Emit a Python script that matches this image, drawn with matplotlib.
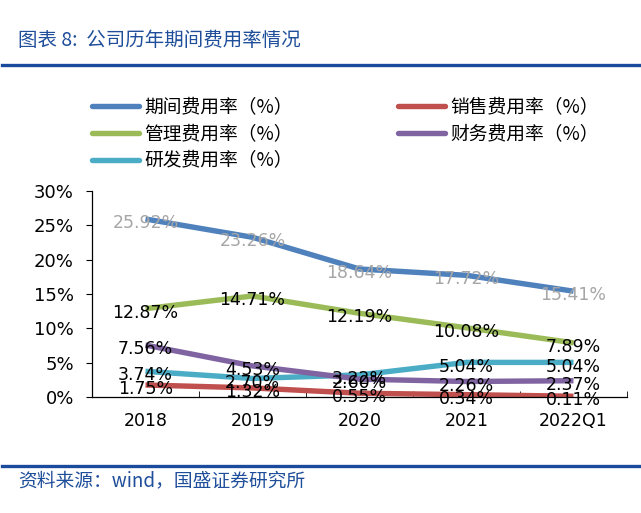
import numpy as np
import matplotlib.pyplot as plt
from matplotlib.lines import Line2D

plt.rcParams['font.family'] = ['Noto Sans CJK SC', 'DejaVu Sans']

# Data
years = ["2018", "2019", "2020", "2021", "2022Q1"]
period_rate = [25.92, 23.26, 18.64, 17.72, 15.41]
sales_rate = [1.75, 1.32, 0.55, 0.34, 0.11]
admin_rate = [12.87, 14.71, 12.19, 10.08, 7.89]
finance_rate = [7.56, 4.53, 2.60, 2.26, 2.37]
rd_rate = [3.74, 2.70, 3.22, 5.04, 5.04]

series = [
    ("期间费用率（%）", period_rate, "#4F81BD", "#A6A6A6"),
    ("管理费用率（%）", admin_rate, "#9BBB59", "black"),
    ("研发费用率（%）", rd_rate, "#4BACC6", "black"),
    ("销售费用率（%）", sales_rate, "#C0504D", "black"),
    ("财务费用率（%）", finance_rate, "#8064A2", "black"),
]

W, H = 641, 513
fig = plt.figure(figsize=(W / 100, H / 100), dpi=100)
ax = fig.add_axes([92 / W, 1 - 397 / H, (627 - 92) / W, (397 - 191) / H])

x = np.arange(len(years)) + 0.5
handles = []
for name, vals, color, lcolor in series:
    v = np.array(vals) / 100
    ax.plot(x, v, color=color, lw=3.9, solid_capstyle="butt", zorder=2)
    handles.append(Line2D([], [], color=color, lw=3.9, solid_capstyle="round"))

# labels drawn after lines so they sit on top
for name, vals, color, lcolor in series:
    for xi, val in zip(x, vals):
        ax.annotate(f"{val:.2f}%", (xi, val / 100), xytext=(0, -3),
                    textcoords="offset points", ha="center", va="center",
                    fontsize=12.5, color=lcolor, family="DejaVu Sans", zorder=3)

ax.set_xlim(0, 5)
ax.set_ylim(0, 0.30)
ax.set_yticks(np.arange(0, 0.31, 0.05))
ax.set_yticklabels([f"{int(round(t * 100))}%" for t in np.arange(0, 0.31, 0.05)],
                   family="DejaVu Sans", fontsize=13)
ax.set_xticks(x)
ax.set_xticklabels(years, family="DejaVu Sans", fontsize=12.5)
ax.set_xticks(np.arange(0, 6), minor=True)
ax.tick_params(axis="x", which="major", length=0, pad=11)
ax.tick_params(axis="x", which="minor", length=4, direction="in")
ax.tick_params(axis="y", length=4, direction="out", pad=9)
for s in ["top", "right"]:
    ax.spines[s].set_visible(False)
for s in ["left", "bottom"]:
    ax.spines[s].set_color("black")
    ax.spines[s].set_linewidth(0.9)

fig.legend(handles, [s[0] for s in series], ncol=2, frameon=False,
           loc="upper left", bbox_to_anchor=(92 / W, 1 - 97 / H),
           fontsize=13.5, handlelength=2.5, handletextpad=0.3,
           columnspacing=5.6, labelspacing=0.31, borderpad=0, borderaxespad=0)

# Title, rules and source
blue = "#1F4E9A"
fig.text(18 / W, 1 - 40 / H, "图表 8:  公司历年期间费用率情况", fontsize=14,
         color=blue, va="center", ha="left", style="italic")
fig.add_artist(Line2D([2 / W, 1], [1 - 65 / H] * 2, color="#1A4A9C", lw=2.4))
fig.add_artist(Line2D([2 / W, 1], [1 - 466 / H] * 2, color="#1A4A9C", lw=2.4))
fig.text(18 / W, 1 - 481 / H, "资料来源：wind，国盛证券研究所", fontsize=13.5,
         color=blue, va="center", ha="left", style="italic")

fig.savefig("out.png", dpi=100)
